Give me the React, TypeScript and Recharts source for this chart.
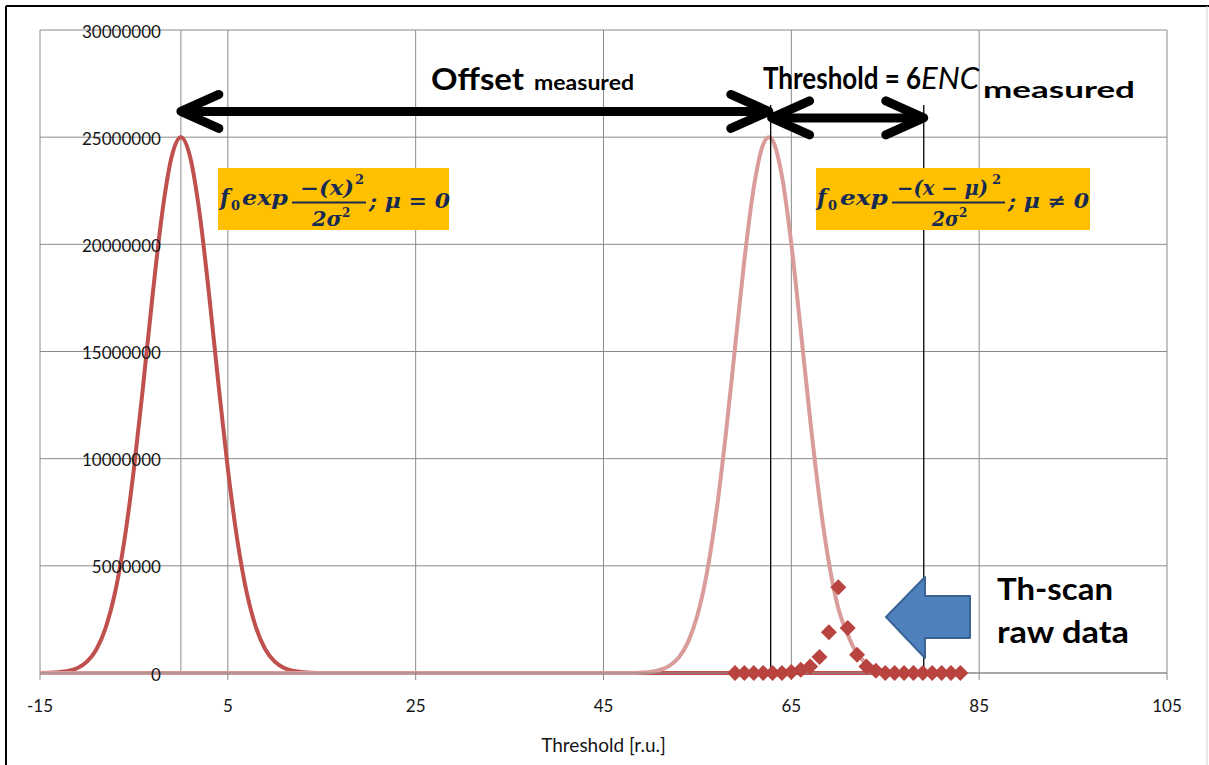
import {
  CartesianGrid,
  ComposedChart,
  Line,
  ReferenceDot,
  ReferenceLine,
  Scatter,
  XAxis,
  YAxis,
} from 'recharts'

const xTicks = [-15, 5, 25, 45, 65, 85, 105]
const yTicks = [0, 5000000, 10000000, 15000000, 20000000, 25000000, 30000000]

// gaussian fit centred on zero (mu = 0)
const zeroFitX = [
  -15, -14, -13, -12, -11, -10, -9, -8, -7, -6, -5, -4, -3, -2, -1, 0, 1, 2, 3, 4, 5, 6, 7, 8, 9, 10, 11, 12,
  13, 14, 15, 83,
]
const zeroFitY = [
  0, 10000, 40000, 100000, 230000, 530000, 1100000, 2120000, 3770000, 6230000, 9530000, 13480000, 17670000,
  21430000, 24050000, 25000000, 24050000, 21430000, 17670000, 13480000, 9530000, 6230000, 3770000, 2120000,
  1100000, 530000, 230000, 100000, 40000, 10000, 0, 0,
]

// gaussian fit at the measured offset (mu != 0)
const offsetFitX = [
  -15, 48, 49, 50, 51, 52, 53, 54, 55, 56, 57, 58, 59, 60, 61, 62, 62.6, 63, 64, 65, 66, 67, 68, 69, 70, 71, 72,
  73, 74, 75, 76, 77, 83,
]
const offsetFitY = [
  0, 0, 20000, 50000, 140000, 330000, 710000, 1440000, 2690000, 4650000, 7460000, 11050000, 15160000, 19260000,
  22650000, 24660000, 25000000, 24850000, 23180000, 20020000, 16000000, 11850000, 8120000, 5150000, 3020000,
  1800000, 900000, 450000, 200000, 80000, 30000, 0, 0,
]

// threshold scan raw data
const rawX = [59, 60, 61, 62, 63, 64, 65, 66, 67, 68, 69, 70, 71, 72, 73, 74, 75, 76, 77, 78, 79, 80, 81, 82, 83]
const rawY = [
  0, 0, 0, 0, 0, 0, 50000, 150000, 300000, 750000, 1900000, 4000000, 2100000, 850000, 300000, 100000, 0, 0, 0, 0,
  0, 0, 0, 0, 0,
]

// annotation anchors (data units)
const offsetMeasured = 62.8
const thresholdEnd = 79.1
const offsetArrowY = 26200000
const thresholdArrowY = 25900000
const markerTop = 26500000

const zip = (xs: number[], ys: number[]) => xs.map((x, i) => ({ x, y: ys[i] }))
const zeroFit = zip(zeroFitX, zeroFitY)
const offsetFit = zip(offsetFitX, offsetFitY)
const raw = zip(rawX, rawY)

const GRID = '#8a8a8a'
const INK = '#151515'
const MATH = '#172a52'

const Diamond = (p: any) => {
  const { cx, cy } = p
  const r = 8
  return <polygon points={`${cx},${cy - r} ${cx + r},${cy} ${cx},${cy + r} ${cx - r},${cy}`} fill="#b8433f" />
}

const DoubleArrow = (p: any) => {
  const { x1, y1, x2, y2 } = p
  const L = 38
  const H = 17
  return (
    <g stroke="#000" strokeWidth={9} strokeLinecap="round" strokeLinejoin="round" fill="none">
      <line x1={x1 + 3} y1={y1} x2={x2 - 3} y2={y2} />
      <polyline points={`${x1 + L},${y1 - H} ${x1},${y1} ${x1 + L},${y1 + H}`} />
      <polyline points={`${x2 - L},${y2 - H} ${x2},${y2} ${x2 - L},${y2 + H}`} />
    </g>
  )
}

const mathFont = { fontFamily: '"DejaVu Serif", serif', fontWeight: 700, fill: MATH }

// stretch a heading vertically around its baseline
const tall = (y: number, k: number) => `translate(0 ${y}) scale(1 ${k}) translate(0 ${-y})`

export default function App() {
  return (
    <div
      style={{
        position: 'absolute',
        left: 0,
        top: 0,
        width: 1209,
        height: 765,
        background: '#fff',
        fontFamily: 'Lato, sans-serif',
        overflow: 'hidden',
      }}
    >
      <ComposedChart width={1209} height={765} margin={{ top: 30, right: 42, bottom: 12, left: 40 }}>
        <CartesianGrid stroke={GRID} />
        <XAxis
          type="number"
          dataKey="x"
          domain={[-15, 105]}
          ticks={xTicks}
          interval={0}
          allowDataOverflow
          height={80}
          tickSize={7}
          tickMargin={20}
          stroke={GRID}
          tick={{ fill: INK, fontSize: 17, fontFamily: 'Lato, sans-serif' }}
          label={{
            value: 'Threshold [r.u.]',
            position: 'insideBottom',
            offset: 1,
            fill: INK,
            fontSize: 19,
            fontFamily: 'Lato, sans-serif',
          }}
        />
        <YAxis type="number" dataKey="y" domain={[0, 30000000]} ticks={yTicks} hide />
        <ReferenceLine x={0} stroke={GRID} />
        <Line
          data={zeroFit}
          dataKey="y"
          type="monotone"
          stroke="#c0504d"
          strokeWidth={4}
          dot={false}
          isAnimationActive={false}
        />
        <Scatter data={raw} dataKey="y" fill="#b8433f" shape={Diamond} isAnimationActive={false} />
        <Line
          data={offsetFit}
          dataKey="y"
          type="monotone"
          stroke="#d99c9a"
          strokeWidth={4}
          dot={false}
          isAnimationActive={false}
        />
        <ReferenceLine
          segment={[
            { x: offsetMeasured, y: 0 },
            { x: offsetMeasured, y: markerTop },
          ]}
          stroke="#000"
          strokeWidth={1.3}
        />
        <ReferenceLine
          segment={[
            { x: thresholdEnd, y: 0 },
            { x: thresholdEnd, y: markerTop },
          ]}
          stroke="#000"
          strokeWidth={1.3}
        />
        <ReferenceLine
          segment={[
            { x: 0, y: offsetArrowY },
            { x: offsetMeasured - 0.2, y: offsetArrowY },
          ]}
          shape={DoubleArrow}
        />
        <ReferenceLine
          segment={[
            { x: offsetMeasured + 0.1, y: thresholdArrowY },
            { x: thresholdEnd, y: thresholdArrowY },
          ]}
          shape={DoubleArrow}
        />
        {yTicks.map((v) => (
          <ReferenceDot
            key={v}
            x={0}
            y={v}
            r={1}
            shape={(p: any) => (
              <text
                x={p.cx - 20}
                y={p.cy + 1}
                textAnchor="end"
                dominantBaseline="central"
                fontSize={17}
                fill={INK}
                fontFamily="Lato, sans-serif"
              >
                {v}
              </text>
            )}
          />
        ))}
      </ComposedChart>

      <svg
        width={1209}
        height={765}
        style={{ position: 'absolute', left: 0, top: 0, pointerEvents: 'none' }}
      >
        {/* frame */}
        <line x1={6} y1={6} x2={1209} y2={6} stroke="#000" strokeWidth={2} />
        <line x1={6} y1={6} x2={6} y2={765} stroke="#000" strokeWidth={2} />
        <line x1={1207} y1={6} x2={1207} y2={765} stroke="#cfcfcf" strokeWidth={1} />

        {/* headings */}
        <g fontFamily="Lato, sans-serif" fontWeight={700} fill="#000">
          <text x={431} y={90} fontSize={31} textLength={93} lengthAdjust="spacingAndGlyphs">
            Offset
          </text>
          <text x={534} y={90} fontSize={20} textLength={100} lengthAdjust="spacingAndGlyphs">
            measured
          </text>
          <text x={763} y={89} fontSize={26} transform={tall(89, 1.18)}>
            Threshold = 6
          </text>
          <text x={921} y={89} fontSize={31} fontWeight={400} fontStyle="italic">
            ENC
          </text>
          <text x={983} y={98} fontSize={22} textLength={152} lengthAdjust="spacingAndGlyphs">
            measured
          </text>
          <text x={997} y={600} fontSize={31} textLength={116} lengthAdjust="spacingAndGlyphs">
            Th-scan
          </text>
          <text x={997} y={643} fontSize={31} textLength={132} lengthAdjust="spacingAndGlyphs">
            raw data
          </text>
        </g>

        {/* formula mu = 0 */}
        <rect x={218} y={168} width={231} height={62} fill="#ffc000" />
        <g {...mathFont}>
          <text x={220} y={205} fontSize={22} fontStyle="italic">
            f
          </text>
          <text x={231} y={210} fontSize={13}>
            0
          </text>
          <text x={242} y={205} fontSize={21} fontStyle="italic" textLength={46} lengthAdjust="spacingAndGlyphs">
            exp
          </text>
          <line x1={292} y1={202.5} x2={366} y2={202.5} stroke={MATH} strokeWidth={2} />
          <text x={300} y={195} fontSize={20} fontStyle="italic" textLength={54} lengthAdjust="spacingAndGlyphs">
            −(x)
          </text>
          <text x={355} y={184} fontSize={13}>
            2
          </text>
          <text x={312} y={226} fontSize={20} fontStyle="italic" textLength={30} lengthAdjust="spacingAndGlyphs">
            2σ
          </text>
          <text x={342} y={217} fontSize={12}>
            2
          </text>
          <text x={369} y={208} fontSize={20} fontStyle="italic" textLength={81} lengthAdjust="spacingAndGlyphs">
            ; μ = 0
          </text>
        </g>

        {/* formula mu != 0 */}
        <rect x={816} y={168} width={274} height={62} fill="#ffc000" />
        <g {...mathFont}>
          <text x={817} y={205} fontSize={22} fontStyle="italic">
            f
          </text>
          <text x={828} y={210} fontSize={13}>
            0
          </text>
          <text x={840} y={205} fontSize={21} fontStyle="italic" textLength={48} lengthAdjust="spacingAndGlyphs">
            exp
          </text>
          <line x1={892} y1={202.5} x2={1005} y2={202.5} stroke={MATH} strokeWidth={2} />
          <text x={897} y={195} fontSize={20} fontStyle="italic" textLength={91} lengthAdjust="spacingAndGlyphs">
            −(x − μ)
          </text>
          <text x={992} y={184} fontSize={13}>
            2
          </text>
          <text x={932} y={226} fontSize={20} fontStyle="italic" textLength={27} lengthAdjust="spacingAndGlyphs">
            2σ
          </text>
          <text x={959} y={217} fontSize={12}>
            2
          </text>
          <text x={1008} y={208} fontSize={20} fontStyle="italic" textLength={81} lengthAdjust="spacingAndGlyphs">
            ; μ ≠ 0
          </text>
        </g>

        {/* block arrow pointing at raw data */}
        <polygon
          points="886,617 925,577 925,596 970,596 970,638 925,638 925,658"
          fill="#4f81bd"
          stroke="#3a6496"
          strokeWidth={2}
          strokeLinejoin="round"
        />
      </svg>
    </div>
  )
}
